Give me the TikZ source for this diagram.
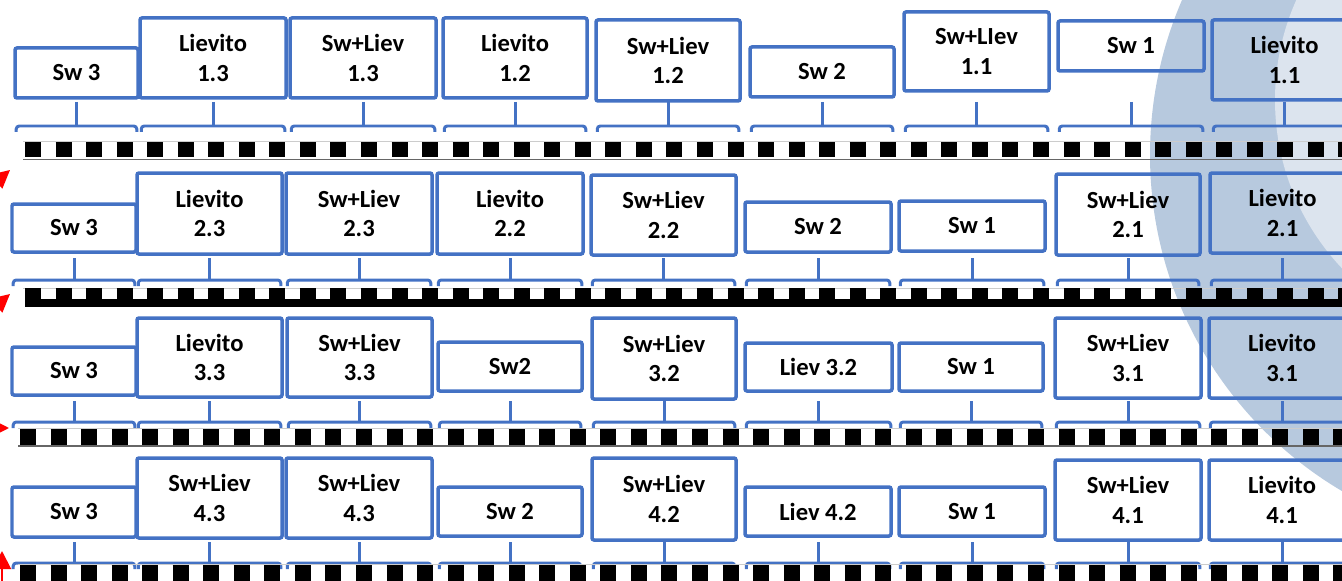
\documentclass[tikz,border=0pt]{standalone}
\usepackage{fontspec}
\setmainfont{Carlito}
\usetikzlibrary{arrows.meta}

\definecolor{slotblue}{HTML}{4472C4}
\definecolor{ringblue}{HTML}{B7C9DE}
\definecolor{coreblue}{HTML}{DCE4EE}

\tikzset{
	slot/.style={draw=slotblue, line width=0.07cm, rounded corners=0.04cm, inner sep=0pt, align=center, font=\fontsize{14}{17}\selectfont\bfseries},
	brace/.style={draw=slotblue, line width=0.06cm, rounded corners=0.06cm},
	tape/.style={line width=0.32cm, dash pattern=on 0.32cm off 0.291cm},
	tick/.style={red, line width=0.04cm, -{Triangle[length=0.36cm, width=0.36cm]}},
}

% slot box from its corners: #1 name, #2 #3 top left, #4 #5 bottom right, #6 text
\newcommand\slotnode[6]{%
	\node[slot, minimum width={(#4-#2)*0.02cm}, minimum height={(#5-#3)*0.02cm}] (#1) at ({(#2+#4)/2},{(#3+#5)/2}) {#6};
}
% bracket under a slot: #1 node, #2 stem top, #3 bracket height
\newcommand\slotbrace[3]{%
	\coordinate (#1t) at (#1.south |- 0,#2);
	\coordinate (#1b) at (#1.south |- 0,#3);
	\draw[brace] ([xshift=0.06cm]#1.south west |- 0,#3+6) -- ([xshift=0.06cm]#1.south west |- #1b) -- ([xshift=-0.06cm]#1.south east |- #1b) -- ([xshift=-0.06cm]#1.south east |- 0,#3+6);
	\draw[brace] (#1t) -- (#1b);
}

\begin{document}
\begin{tikzpicture}[x=0.02cm, y=-0.02cm]
			\path[use as bounding box] (0,0) rectangle (1342,581);
			\clip (0,0) rectangle (1342,581);

			\fill[ringblue] (1540,155) circle [radius=390];
			\fill[coreblue] (1520,100) circle [radius=245];

			% row 1
			\slotnode{r1c1}{15}{48}{138}{98}{Sw 3}
			\slotnode{r1c2}{140}{18}{286}{98}{Lievito\\1.3}
			\slotnode{r1c3}{290}{18}{436}{98}{Sw+Liev\\1.3}
			\slotnode{r1c4}{443}{18}{587}{98}{Lievito\\1.2}
			\slotnode{r1c5}{596}{20}{740}{101}{Sw+Liev\\1.2}
			\slotnode{r1c6}{750}{47}{894}{97}{Sw 2}
			\slotnode{r1c7}{904}{12}{1049}{91}{Sw+LIev\\1.1}
			\slotnode{r1c8}{1058}{21}{1204}{71}{Sw 1}
			\slotnode{r1c9}{1212}{20}{1357}{100}{Lievito\\1.1}
			\foreach \c in {1,...,9} {\slotbrace{r1c\c}{102}{126}}

			\draw[black!20, line width=0.02cm] (23,141.5) -- (1342,141.5);
			\draw[tape] (25,149.5) -- (1360,149.5);
			\draw[black!60, line width=0.03cm] (23,159.5) -- (1342,159.5);

			% row 2
			\slotnode{r2c1}{12}{204}{136}{252}{Sw 3}
			\slotnode{r2c2}{137}{173}{282}{254}{Lievito\\2.3}
			\slotnode{r2c3}{286}{173}{432}{254}{Sw+Liev\\2.3}
			\slotnode{r2c4}{437}{173}{583}{254}{Lievito\\2.2}
			\slotnode{r2c5}{591}{175}{736}{255}{Sw+Liev\\2.2}
			\slotnode{r2c6}{745}{202}{891}{252}{Sw 2}
			\slotnode{r2c7}{899}{201}{1045}{251}{Sw 1}
			\slotnode{r2c8}{1056}{174}{1200}{255}{Sw+Liev\\2.1}
			\slotnode{r2c9}{1210}{173}{1355}{253}{Lievito\\2.1}
			\foreach \c in {1,...,9} {\slotbrace{r2c\c}{258}{280}}

			\draw[black!20, line width=0.02cm] (23,288.5) -- (1342,288.5);
			\fill[black] (25,299) rectangle (1360,307);
			\draw[tape, line width=0.24cm] (25,294) -- (1360,294);

			% row 3
			\slotnode{r3c1}{12}{347}{136}{395}{Sw 3}
			\slotnode{r3c2}{137}{318}{282}{397}{Lievito\\3.3}
			\slotnode{r3c3}{287}{318}{432}{397}{Sw+Liev\\3.3}
			\slotnode{r3c4}{438}{342}{582}{391}{Sw2}
			\slotnode{r3c5}{592}{318}{736}{399}{Sw+Liev\\3.2}
			\slotnode{r3c6}{745}{343}{892}{391}{Liev 3.2}
			\slotnode{r3c7}{899}{343}{1043}{391}{Sw 1}
			\slotnode{r3c8}{1055}{318}{1201}{398}{Sw+Liev\\3.1}
			\slotnode{r3c9}{1209}{318}{1355}{398}{Lievito\\3.1}
			\foreach \c in {1,...,9} {\slotbrace{r3c\c}{401}{422}}

			\draw[black!20, line width=0.02cm] (18,428.5) -- (1342,428.5);
			\draw[tape] (20,437) -- (1360,437);
			\draw[black!60, line width=0.03cm] (18,446) -- (1342,446);

			% row 4
			\slotnode{r4c1}{12}{487}{136}{537}{Sw 3}
			\slotnode{r4c2}{137}{458}{282}{538}{Sw+Liev\\4.3}
			\slotnode{r4c3}{286}{458}{432}{538}{Sw+Liev\\4.3}
			\slotnode{r4c4}{438}{487}{582}{536}{Sw 2}
			\slotnode{r4c5}{592}{458}{736}{540}{Sw+Liev\\4.2}
			\slotnode{r4c6}{745}{487}{891}{536}{Liev 4.2}
			\slotnode{r4c7}{899}{487}{1045}{536}{Sw 1}
			\slotnode{r4c8}{1055}{460}{1201}{540}{Sw+Liev\\4.1}
			\slotnode{r4c9}{1209}{460}{1355}{540}{Lievito\\4.1}
			\foreach \c in {1,...,9} {\slotbrace{r4c\c}{542}{563}}

			\draw[black!20, line width=0.02cm] (18,564.5) -- (1342,564.5);
			\draw[tape] (20,573) -- (1360,573);

			% red tips at the left edge
			\coordinate (tip1) at (10,170);
			\coordinate (tail1) at (-25,200);
			\coordinate (tip2) at (10,294);
			\coordinate (tail2) at (-25,324);
			\coordinate (tip3) at (9,428);
			\coordinate (tail3) at (-40,428);
			\coordinate (tip4) at (2,551);
			\coordinate (tail4) at (2,600);
			\draw[tick] (tail1) -- (tip1);
			\draw[tick] (tail2) -- (tip2);
			\draw[tick] (tail3) -- (tip3);
			\draw[tick] (tail4) -- (tip4);

		\end{tikzpicture}
\end{document}
